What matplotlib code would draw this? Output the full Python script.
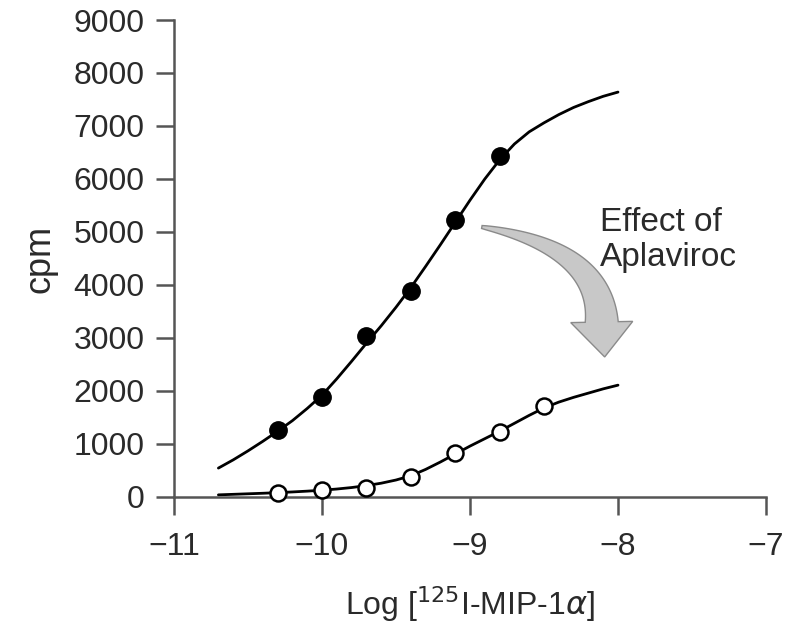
import numpy as np
import matplotlib
matplotlib.use("Agg")
import matplotlib.pyplot as plt
from matplotlib.patches import Polygon
from matplotlib.transforms import IdentityTransform

# ============================================================
# DATA
# ============================================================

# control: filled circles
log_conc_ctrl = [-10.3, -10.0, -9.7, -9.4, -9.1, -8.8]
cpm_ctrl = [1264, 1887, 3038, 3887, 5226, 6434]

# with aplaviroc: open circles
log_conc_apl = [-10.3, -10.0, -9.7, -9.4, -9.1, -8.8, -8.5]
cpm_apl = [75, 132, 170, 377, 830, 1226, 1717]

# fitted curves, every 0.1 log unit
fit_x = [-10.7, -10.6, -10.5, -10.4, -10.3, -10.2, -10.1, -10.0,
         -9.9, -9.8, -9.7, -9.6, -9.5, -9.4, -9.3, -9.2, -9.1, -9.0,
         -8.9, -8.8, -8.7, -8.6, -8.5, -8.4, -8.3, -8.2, -8.1, -8.0]

fit_y_ctrl = [545, 700, 870, 1050, 1240, 1440, 1670, 1920,
              2230, 2560, 2900, 3230, 3580, 3950, 4350, 4760, 5180, 5600,
              6000, 6360, 6660, 6890, 7060, 7215, 7350, 7460, 7560, 7640]

fit_y_apl = [40, 50, 60, 70, 82, 95, 110, 128,
             150, 178, 215, 260, 320, 400, 520, 660, 810, 960,
             1100, 1240, 1390, 1540, 1680, 1790, 1880, 1960, 2040, 2110]

x_ticks = [-11, -10, -9, -8, -7]
y_ticks = [0, 1000, 2000, 3000, 4000, 5000, 6000, 7000, 8000, 9000]

# ============================================================
# STYLE
# ============================================================

plt.rcParams['font.family'] = ['Liberation Sans', 'DejaVu Sans']

AXIS_COLOR = "#555555"
TEXT_COLOR = "#2a2a2a"

fig = plt.figure(figsize=(8.0, 6.31), dpi=100)

ax = fig.add_axes([0.2175, 0.2124, 0.74, 0.7559])

ax.set_xlim(-11, -7)
ax.set_ylim(0, 9000)

# ============================================================
# CURVES AND POINTS
# ============================================================

ax.plot(fit_x, fit_y_ctrl, color="black", lw=2.0, zorder=2,
        solid_capstyle="round")
ax.plot(fit_x, fit_y_apl, color="black", lw=2.0, zorder=2,
        solid_capstyle="round")

ax.plot(log_conc_ctrl, cpm_ctrl, "o", ms=12.5, color="black",
        zorder=3, clip_on=False)
ax.plot(log_conc_apl, cpm_apl, "o", ms=11.5, mfc="white", mec="black",
        mew=1.8, zorder=3, clip_on=False)

# ------------------------------------------------------------
# curved "effect" arrow (tapered shaft + head), built in pixels
# ------------------------------------------------------------

# anchors in data units: tail tip, bend, head base, head tip
p0 = ax.transData.transform((-8.92, 5094))
p1 = ax.transData.transform((-8.12, 4700))
p2 = ax.transData.transform((-8.11, 3302))
tip = ax.transData.transform((-8.09, 2642))

t = np.linspace(0, 1, 60)[:, None]
centre = (1 - t) ** 2 * p0 + 2 * (1 - t) * t * p1 + t ** 2 * p2
deriv = 2 * (1 - t) * (p1 - p0) + 2 * t * (p2 - p1)
deriv = deriv / np.linalg.norm(deriv, axis=1)[:, None]
normal = np.column_stack([-deriv[:, 1], deriv[:, 0]])

half_w = (1.5 + 15.0 * t[:, 0] ** 0.85)[:, None]
side_a = centre + normal * half_w
side_b = centre - normal * half_w

head_half = 31.0
end_norm = normal[-1]
head_a = p2 + end_norm * head_half
head_b = p2 - end_norm * head_half

outline = np.vstack([side_a, head_a, tip, head_b, side_b[::-1]])

arrow = Polygon(outline, closed=True, transform=IdentityTransform(),
                facecolor="#c8c8c8", edgecolor="#8a8a8a", lw=1.0, zorder=1)
ax.add_patch(arrow)

ax.text(-8.12, 4850, "Effect of\nAplaviroc", fontsize=24,
        color=TEXT_COLOR, ha="left", va="center", linespacing=1.2)

# ============================================================
# AXES
# ============================================================

ax.set_xticks(x_ticks)
ax.set_yticks(y_ticks)

for side in ["top", "right"]:
    ax.spines[side].set_visible(False)

for side in ["left", "bottom"]:
    ax.spines[side].set_color(AXIS_COLOR)
    ax.spines[side].set_linewidth(1.8)

ax.tick_params(axis="both", direction="out", length=13, width=1.8,
               color=AXIS_COLOR, labelsize=23, labelcolor=TEXT_COLOR)
ax.tick_params(axis="x", pad=12)
ax.tick_params(axis="y", pad=8)

ax.set_ylabel("cpm", fontsize=26, color=TEXT_COLOR, labelpad=12)
ax.set_xlabel(r"Log [$^{125}$I-MIP-1$\alpha$]", fontsize=23,
              color=TEXT_COLOR, labelpad=16)

fig.savefig("out.png", dpi=100)
